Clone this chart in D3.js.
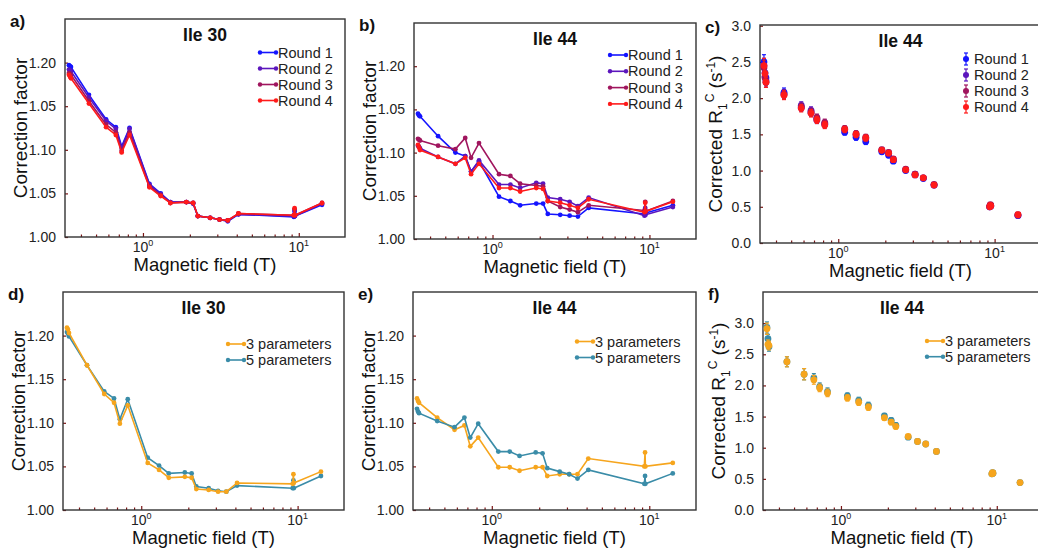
<!DOCTYPE html>
<html>
<head>
<meta charset="utf-8">
<script src="https://cdn.jsdelivr.net/npm/d3@7"></script>
<style>
  body { margin: 0; background: #fff; }
  svg  { display: block; font-family: 'Liberation Sans', Arial, sans-serif; }
</style>
</head>
<body>
<svg id="fig" width="1038" height="548"></svg>
<script>
// ── DATA ──────────────────────────────────────────────────────────────────────

// magnetic field (T), shared by every panel
const FIELDS = [0.335, 0.34, 0.345, 0.45, 0.58, 0.67, 0.73, 0.82, 1.1, 1.3, 1.5,
                1.9, 2.1, 2.25, 2.7, 3.1, 3.5, 4.1, 9.3, 9.4, 9.45, 14.1];

// a) Ile 30 correction factor, per round
const A_R1 = [1.197, 1.196, 1.195, 1.163, 1.135, 1.126, 1.104, 1.125, 1.061, 1.050, 1.040, 1.040, 1.038, 1.024, 1.022, 1.020, 1.018, 1.026, 1.023, 1.029, 1.024, 1.037];
const A_R2 = [1.192, 1.191, 1.190, 1.160, 1.133, 1.124, 1.102, 1.124, 1.060, 1.049, 1.040, 1.040, 1.039, 1.024, 1.022, 1.020, 1.019, 1.026, 1.024, 1.031, 1.024, 1.038];
const A_R3 = [1.188, 1.187, 1.186, 1.156, 1.129, 1.120, 1.099, 1.120, 1.058, 1.048, 1.039, 1.040, 1.039, 1.024, 1.022, 1.020, 1.019, 1.027, 1.025, 1.032, 1.025, 1.039];
const A_R4 = [1.186, 1.184, 1.182, 1.153, 1.126, 1.117, 1.097, 1.117, 1.057, 1.047, 1.039, 1.040, 1.039, 1.024, 1.022, 1.020, 1.019, 1.027, 1.025, 1.033, 1.025, 1.039];

// b) Ile 44 correction factor, per round
const B_R1 = [1.145, 1.143, 1.142, 1.119, 1.100, 1.096, 1.078, 1.090, 1.049, 1.044, 1.039, 1.041, 1.041, 1.029, 1.028, 1.027, 1.026, 1.036, 1.029, 1.033, 1.030, 1.039];
const B_R2 = [1.108, 1.107, 1.105, 1.095, 1.087, 1.096, 1.078, 1.091, 1.063, 1.063, 1.059, 1.065, 1.064, 1.048, 1.046, 1.043, 1.038, 1.048, 1.027, 1.036, 1.028, 1.037];
const B_R3 = [1.116, 1.115, 1.114, 1.108, 1.104, 1.117, 1.094, 1.111, 1.075, 1.073, 1.064, 1.062, 1.061, 1.044, 1.037, 1.034, 1.031, 1.039, 1.033, 1.043, 1.032, 1.044];
const B_R4 = [1.109, 1.106, 1.103, 1.095, 1.087, 1.094, 1.075, 1.087, 1.059, 1.059, 1.055, 1.059, 1.058, 1.044, 1.042, 1.039, 1.036, 1.046, 1.031, 1.042, 1.032, 1.043];

// c) Ile 44 corrected R1 (s-1), per round, with error
const C_R1 = [2.50, 2.35, 2.28, 2.08, 1.87, 1.80, 1.70, 1.64, 1.53, 1.46, 1.40, 1.26, 1.21, 1.13, 1.00, 0.94, 0.89, 0.80, 0.50, 0.52, 0.51, 0.38];
const C_R2 = [2.45, 2.30, 2.24, 2.06, 1.90, 1.83, 1.72, 1.65, 1.56, 1.49, 1.44, 1.28, 1.24, 1.15, 1.01, 0.95, 0.90, 0.80, 0.50, 0.52, 0.51, 0.38];
const C_R3 = [2.42, 2.28, 2.22, 2.05, 1.88, 1.81, 1.73, 1.66, 1.58, 1.51, 1.46, 1.29, 1.25, 1.16, 1.02, 0.95, 0.90, 0.81, 0.51, 0.53, 0.52, 0.39];
const C_R4 = [2.45, 2.34, 2.22, 2.04, 1.86, 1.79, 1.70, 1.63, 1.57, 1.50, 1.45, 1.28, 1.24, 1.15, 1.01, 0.94, 0.90, 0.80, 0.50, 0.52, 0.51, 0.39];
const C_ERR = [0.10, 0.08, 0.07, 0.06, 0.05, 0.05, 0.05, 0.05, 0.04, 0.04, 0.04, 0.03, 0.03, 0.03, 0.02, 0.02, 0.02, 0.02, 0.02, 0.02, 0.02, 0.02];

// d) Ile 30, 3 vs 5 parameters
const D_P3 = [1.209, 1.207, 1.203, 1.166, 1.133, 1.123, 1.099, 1.120, 1.054, 1.046, 1.037, 1.038, 1.037, 1.024, 1.023, 1.021, 1.021, 1.031, 1.030, 1.041, 1.031, 1.044];
const D_P5 = [1.204, 1.202, 1.199, 1.166, 1.136, 1.128, 1.104, 1.127, 1.060, 1.051, 1.042, 1.043, 1.042, 1.027, 1.025, 1.022, 1.021, 1.028, 1.025, 1.034, 1.025, 1.039];

// e) Ile 44, 3 vs 5 parameters
const E_P3 = [1.128, 1.125, 1.123, 1.106, 1.092, 1.097, 1.073, 1.083, 1.049, 1.049, 1.045, 1.049, 1.049, 1.039, 1.041, 1.041, 1.041, 1.059, 1.050, 1.066, 1.050, 1.054];
const E_P5 = [1.116, 1.113, 1.111, 1.102, 1.095, 1.106, 1.083, 1.099, 1.067, 1.067, 1.062, 1.066, 1.065, 1.048, 1.044, 1.041, 1.036, 1.046, 1.030, 1.039, 1.030, 1.042];

// f) Ile 44 corrected R1, 3 vs 5 parameters
const F_P3 = [2.91, 2.66, 2.64, 2.38, 2.18, 2.09, 1.96, 1.88, 1.80, 1.73, 1.65, 1.48, 1.41, 1.34, 1.18, 1.10, 1.06, 0.94, 0.58, 0.60, 0.59, 0.44];
const F_P5 = [2.93, 2.75, 2.62, 2.38, 2.18, 2.12, 1.98, 1.90, 1.83, 1.76, 1.68, 1.51, 1.44, 1.36, 1.17, 1.10, 1.06, 0.94, 0.58, 0.60, 0.59, 0.44];
const F_ERR = [0.09, 0.07, 0.07, 0.08, 0.09, 0.07, 0.06, 0.06, 0.05, 0.05, 0.05, 0.04, 0.04, 0.04, 0.03, 0.03, 0.03, 0.02, 0.02, 0.02, 0.02, 0.02];

// tick values / labels (the a, b labels read as printed in the figure)
const CF_TICKS      = [1.00, 1.05, 1.10, 1.15, 1.20];
const CF_LABELS_AB  = ['1.00', '1.05', '1.10', '1.05', '1.20'];
const CF_LABELS_DE  = ['1.00', '1.05', '1.10', '1.15', '1.20'];
const R1_TICKS      = [0, 0.5, 1.0, 1.5, 2.0, 2.5, 3.0];
const R1_LABELS     = ['0.0', '0.5', '1.0', '1.5', '2.0', '2.5', '3.0'];
const X_MAJOR       = [1, 10];
const X_MAJOR_EXP   = ['0', '1'];
const X_MINOR       = [0.4, 0.5, 0.6, 0.7, 0.8, 0.9, 2, 3, 4, 5, 6, 7, 8, 9];

const ROUND_NAMES = ['Round 1', 'Round 2', 'Round 3', 'Round 4'];
const PARAM_NAMES = ['3 parameters', '5 parameters'];

// ── STYLE / LAYOUT ────────────────────────────────────────────────────────────

const ROUND_COLORS = ['#1414ff', '#5c16bd', '#a0155e', '#ff1a1a'];
const PARAM_COLORS = ['#f6a51d', '#3a8ca8'];
const TICK_COLOR   = '#7a1414';
const FRAME_COLOR  = '#333';
const X_DOMAIN     = [0.316, 19.8];

const svg = d3.select('#fig');

const PANELS = [
  { tag: 'a)', title: 'Ile 30', box: [65, 19, 345, 237],  yDom: [1, 1.25], yT: CF_TICKS, yL: CF_LABELS_AB, kind: 'line',
    series: [A_R1, A_R2, A_R3, A_R4], names: ROUND_NAMES, colors: ROUND_COLORS, leg: [260, 52.5, 16] },
  { tag: 'b)', title: 'Ile 44', box: [414, 23, 696, 239], yDom: [1, 1.25], yT: CF_TICKS, yL: CF_LABELS_AB, kind: 'line',
    series: [B_R1, B_R2, B_R3, B_R4], names: ROUND_NAMES, colors: ROUND_COLORS, leg: [610, 55, 16.3] },
  { tag: 'c)', title: 'Ile 44', box: [760, 25, 1041, 243], yDom: [0, 3.01], yT: R1_TICKS, yL: R1_LABELS, kind: 'err',
    series: [C_R1, C_R2, C_R3, C_R4], err: C_ERR, names: ROUND_NAMES, colors: ROUND_COLORS, leg: [966, 59, 16] },
  { tag: 'd)', title: 'Ile 30', box: [63, 292, 344, 510], yDom: [1, 1.25], yT: CF_TICKS, yL: CF_LABELS_DE, kind: 'line',
    series: [D_P3, D_P5], names: PARAM_NAMES, colors: PARAM_COLORS, leg: [228, 344, 16], order: [1, 0] },
  { tag: 'e)', title: 'Ile 44', box: [413, 292, 696, 510], yDom: [1, 1.25], yT: CF_TICKS, yL: CF_LABELS_DE, kind: 'line',
    series: [E_P3, E_P5], names: PARAM_NAMES, colors: PARAM_COLORS, leg: [577, 341.5, 16] },
  { tag: 'f)', title: 'Ile 44', box: [763, 292, 1043, 510], yDom: [0, 3.5], yT: R1_TICKS, yL: R1_LABELS, kind: 'err',
    series: [F_P3, F_P5], err: F_ERR, names: PARAM_NAMES, colors: PARAM_COLORS, leg: [927, 341, 15.7], order: [1, 0], legLine: true },
];

// ── DRAW ──────────────────────────────────────────────────────────────────────

PANELS.forEach(drawPanel);

function drawPanel(p) {
  const [x0, y0, x1, y1] = p.box;
  const x = d3.scaleLog().domain(X_DOMAIN).range([x0, x1]);
  const y = d3.scaleLinear().domain(p.yDom).range([y1, y0]);
  const g = svg.append('g');

  // y axis: inward ticks
  const yAxis = g.append('g').attr('transform', `translate(${x0},0)`)
    .call(d3.axisLeft(y).tickValues(p.yT).tickSize(-3).tickPadding(9)
      .tickFormat((d, i) => p.yL[i]));
  styleAxis(yAxis);
  yAxis.selectAll('text').attr('font-size', 14).attr('fill', '#222');

  // x axis: major + minor inward ticks, superscript labels
  const xMinor = g.append('g').attr('transform', `translate(0,${y1})`)
    .call(d3.axisBottom(x).tickValues(X_MINOR).tickSize(-2.5).tickFormat(''));
  styleAxis(xMinor);
  const xMajor = g.append('g').attr('transform', `translate(0,${y1})`)
    .call(d3.axisBottom(x).tickValues(X_MAJOR).tickSize(-4).tickFormat(''));
  styleAxis(xMajor);
  X_MAJOR.forEach((v, i) => {
    const t = g.append('text').attr('x', x(v)).attr('y', y1 + 15)
      .attr('text-anchor', 'middle').attr('font-size', 14).attr('fill', '#222');
    t.append('tspan').text('10');
    t.append('tspan').attr('font-size', 9).attr('dy', -6).text(X_MAJOR_EXP[i]);
  });

  // frame
  g.append('rect').attr('x', x0).attr('y', y0).attr('width', x1 - x0).attr('height', y1 - y0)
    .attr('fill', 'none').attr('stroke', FRAME_COLOR).attr('stroke-width', 1.4);

  // data
  const order = p.order || p.series.map((_, i) => i);
  order.forEach(i => {
    const vals = p.series[i];
    const col = p.colors[i];
    const pts = FIELDS.map((f, k) => [f, vals[k], p.err ? p.err[k] : 0]);
    if (p.kind === 'line') {
      g.append('path').datum(pts)
        .attr('fill', 'none').attr('stroke', col).attr('stroke-width', 1.6)
        .attr('d', d3.line().x(d => x(d[0])).y(d => y(d[1])));
      g.append('g').selectAll('circle').data(pts).join('circle')
        .attr('cx', d => x(d[0])).attr('cy', d => y(d[1])).attr('r', 2.4).attr('fill', col);
    } else {
      const eg = g.append('g').attr('stroke', col).attr('stroke-width', 1.2);
      eg.selectAll('line.bar').data(pts).join('line').attr('class', 'bar')
        .attr('x1', d => x(d[0])).attr('x2', d => x(d[0]))
        .attr('y1', d => y(d[1] - d[2])).attr('y2', d => y(d[1] + d[2]));
      ['-', '+'].forEach(s => {
        eg.selectAll('line.cap' + (s === '+' ? 'u' : 'd')).data(pts).join('line')
          .attr('class', 'cap' + (s === '+' ? 'u' : 'd'))
          .attr('x1', d => x(d[0]) - 2).attr('x2', d => x(d[0]) + 2)
          .attr('y1', d => y(s === '+' ? d[1] + d[2] : d[1] - d[2]))
          .attr('y2', d => y(s === '+' ? d[1] + d[2] : d[1] - d[2]));
      });
      g.append('g').selectAll('circle').data(pts).join('circle')
        .attr('cx', d => x(d[0])).attr('cy', d => y(d[1])).attr('r', 3.4).attr('fill', col);
    }
  });

  // title
  g.append('text').attr('x', (x0 + Math.min(x1, 1041)) / 2).attr('y', y0 + 22)
    .attr('text-anchor', 'middle').attr('font-size', 17.5).attr('font-weight', 'bold')
    .attr('fill', '#111').text(p.title);

  // legend
  const [lx, ly, dy] = p.leg;
  p.names.forEach((name, i) => {
    const col = p.colors[i];
    const cy = ly + i * dy;
    if (p.kind === 'line' || p.legLine) {
      g.append('line').attr('x1', lx).attr('x2', lx + 16).attr('y1', cy).attr('y2', cy)
        .attr('stroke', col).attr('stroke-width', 1.6);
      [lx, lx + 16].forEach(cx => g.append('circle').attr('cx', cx).attr('cy', cy).attr('r', 2.2).attr('fill', col));
      g.append('text').attr('x', lx + 18).attr('y', cy).attr('dy', '0.35em')
        .attr('font-size', 14.5).attr('fill', '#222').text(name);
    } else {
      g.append('line').attr('x1', lx).attr('x2', lx).attr('y1', cy - 6).attr('y2', cy + 6)
        .attr('stroke', col).attr('stroke-width', 1.2);
      [cy - 6, cy + 6].forEach(yy => g.append('line').attr('x1', lx - 2).attr('x2', lx + 2)
        .attr('y1', yy).attr('y2', yy).attr('stroke', col).attr('stroke-width', 1.2));
      g.append('circle').attr('cx', lx).attr('cy', cy).attr('r', 3).attr('fill', col);
      g.append('text').attr('x', lx + 8).attr('y', cy).attr('dy', '0.35em')
        .attr('font-size', 14.5).attr('fill', '#222').text(name);
    }
  });

  // panel tag
  g.append('text').attr('x', x0 - 55).attr('y', y0 + 8)
    .attr('font-size', 17).attr('font-weight', 'bold').attr('fill', '#111').text(p.tag);

  // x label
  g.append('text').attr('x', (x0 + Math.min(x1, 1041)) / 2).attr('y', y1 + 34)
    .attr('text-anchor', 'middle').attr('font-size', 18.5).attr('fill', '#111')
    .text('Magnetic field (T)');

  // y label
  const yl = g.append('text')
    .attr('transform', `translate(${x0 - 38},${(y0 + y1) / 2}) rotate(-90)`)
    .attr('text-anchor', 'middle').attr('font-size', 19).attr('fill', '#111');
  if (p.kind === 'line') {
    yl.text('Correction factor');
  } else {
    yl.append('tspan').text('Corrected R');
    yl.append('tspan').attr('font-size', 12).attr('dy', 5).text('1');
    yl.append('tspan').attr('font-size', 12).attr('dy', -13).attr('dx', 1).text('C');
    yl.append('tspan').attr('dy', 8).text(' (s');
    yl.append('tspan').attr('font-size', 12).attr('dy', -7).text('-1');
    yl.append('tspan').attr('dy', 7).text(')');
  }
}

function styleAxis(sel) {
  sel.select('.domain').remove();
  sel.selectAll('.tick line').attr('stroke', TICK_COLOR).attr('stroke-width', 1.2);
  sel.selectAll('text').attr('font-family', null);
}
</script>
</body>
</html>
